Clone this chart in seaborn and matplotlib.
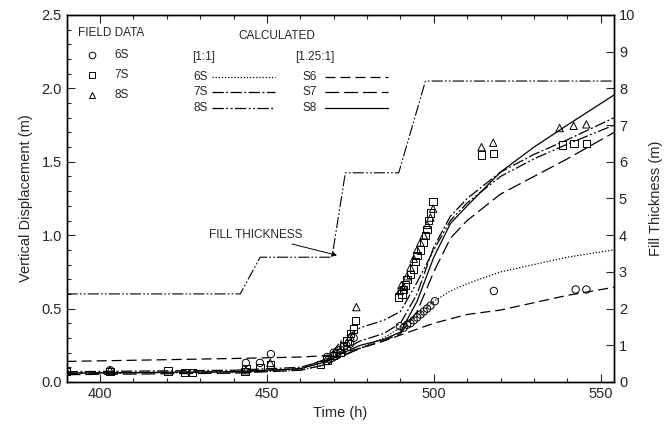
import numpy as np
import pandas as pd
import matplotlib.pyplot as plt
import seaborn as sns

# Deslocamento vertical medido (field data) e calculado, e espessura do aterro

# Field data: time (h) and vertical displacement (m)
t_6s = [403, 443.7, 447.9, 451.2, 468, 470, 471, 472, 473, 474, 475, 476,
        489.8, 491, 492, 493, 494, 495, 496, 497, 498, 499, 500.3,
        518, 542.5, 545.7]
v_6s = [0.08, 0.13, 0.13, 0.19, 0.17, 0.20, 0.19, 0.22, 0.24, 0.22, 0.26, 0.30,
        0.38, 0.37, 0.39, 0.40, 0.42, 0.44, 0.46, 0.48, 0.50, 0.52, 0.55,
        0.62, 0.63, 0.63]

t_7s = [390, 403, 420.4, 425.4, 427.8, 443.4, 443.7, 447.9, 451, 466, 468, 470,
        472, 473, 474, 475, 476, 476.6,
        489.5, 490.5, 491, 491.5, 492, 493, 494, 494.5, 495, 496, 497, 497.5,
        498, 498.5, 499, 499.8,
        514.3, 517.8, 538.5, 542, 545.7]
v_7s = [0.07, 0.07, 0.076, 0.065, 0.065, 0.07, 0.09, 0.10, 0.12, 0.12, 0.15, 0.18,
        0.20, 0.25, 0.28, 0.33, 0.36, 0.42,
        0.58, 0.60, 0.63, 0.66, 0.70, 0.73, 0.77, 0.82, 0.86, 0.90, 0.95, 1.00,
        1.04, 1.10, 1.15, 1.23,
        1.546, 1.558, 1.614, 1.626, 1.626]

t_8s = [390, 403, 443.7, 451, 468, 470, 472, 474, 475, 476.8,
        489.8, 490.3, 491, 492, 493, 494, 495, 496, 497, 498, 499, 499.8,
        514.3, 517.8, 537.7, 541.9, 545.7]
v_8s = [0.07, 0.08, 0.08, 0.13, 0.16, 0.19, 0.22, 0.27, 0.31, 0.51,
        0.62, 0.66, 0.65, 0.72, 0.78, 0.84, 0.90, 0.95, 1.00, 1.07, 1.12, 1.18,
        1.60, 1.63, 1.73, 1.745, 1.755]

# Calculated curves
t_calc = [390, 440, 460, 468, 473, 478, 485, 490, 495, 500, 505, 510, 520, 530, 540, 554]
c_6s_11 = [0.06, 0.065, 0.08, 0.12, 0.18, 0.23, 0.30, 0.37, 0.45, 0.55, 0.62, 0.67, 0.75, 0.80, 0.85, 0.90]
c_7s_11 = [0.07, 0.08, 0.10, 0.15, 0.22, 0.28, 0.33, 0.40, 0.60, 0.92, 1.13, 1.25, 1.43, 1.55, 1.65, 1.80]
c_8s_11 = [0.06, 0.07, 0.09, 0.16, 0.30, 0.37, 0.42, 0.48, 0.68, 0.90, 1.10, 1.22, 1.40, 1.52, 1.62, 1.75]
c_s6 = [0.14, 0.16, 0.17, 0.18, 0.20, 0.23, 0.28, 0.32, 0.36, 0.40, 0.43, 0.46, 0.49, 0.54, 0.59, 0.645]
c_s7 = [0.05, 0.06, 0.08, 0.12, 0.18, 0.23, 0.28, 0.33, 0.48, 0.75, 0.98, 1.10, 1.28, 1.40, 1.52, 1.70]
c_s8 = [0.06, 0.07, 0.09, 0.14, 0.20, 0.25, 0.29, 0.34, 0.55, 0.85, 1.08, 1.20, 1.43, 1.60, 1.75, 1.955]

# Fill thickness (m), right axis
t_fill = [390, 442, 448, 469.5, 473.5, 489.5, 497.5, 554]
h_fill = [2.4, 2.4, 3.4, 3.4, 5.7, 5.7, 8.2, 8.2]

sns.set_style("ticks")
plt.rcParams['font.family'] = ['Liberation Sans', 'DejaVu Sans']

fig = plt.figure(figsize=(6.67, 4.28), dpi=100)
ax = fig.add_axes([0.0999, 0.1075, 0.8207, 0.8575])
ax2 = ax.twinx()

lw = 0.9
estilos = [
    (c_6s_11, (0, (1, 1.5))),
    (c_7s_11, (0, (9, 2, 1.5, 2))),
    (c_8s_11, (0, (9, 2, 1.5, 2, 1.5, 2))),
    (c_s6, (0, (8, 4))),
    (c_s7, (0, (11, 4))),
    (c_s8, '-'),
]
for vals, ls in estilos:
    sns.lineplot(x=t_calc, y=vals, ax=ax, color='black', lw=lw, linestyle=ls,
                 estimator=None, sort=False)

for tt, vv, mk in [(t_6s, v_6s, 'o'), (t_7s, v_7s, 's'), (t_8s, v_8s, '^')]:
    sns.scatterplot(x=tt, y=vv, ax=ax, marker=mk, s=28, linewidth=0.7,
                    edgecolor='black', zorder=3)
    ax.collections[-1].set_facecolor('none')

sns.lineplot(x=t_fill, y=h_fill, ax=ax2, color='black', lw=0.8,
             linestyle=(0, (10, 2, 1.5, 2, 1.5, 2)), estimator=None, sort=False)

# Eixos
ax.set_xlim(390, 554)
ax.set_ylim(0, 2.5)
ax2.set_ylim(0, 10)
ax.set_xticks([400, 450, 500, 550])
ax.set_xticks(np.arange(400, 551, 10), minor=True)
ax.set_yticks(np.arange(0, 2.51, 0.5))
ax.set_yticks(np.arange(0, 2.51, 0.1), minor=True)
ax.set_yticklabels([f'{v:.1f}' for v in np.arange(0, 2.51, 0.5)])
ax2.set_yticks(range(0, 11))

ax.tick_params(which='both', direction='in', top=True, labelsize=10.5)
ax.tick_params(which='major', length=6, width=0.8)
ax.tick_params(which='minor', length=3, width=0.8)
ax.tick_params(axis='y', which='both', right=False)
ax2.tick_params(direction='in', length=6, width=0.8, labelsize=10.5)
for a in (ax, ax2):
    for s in a.spines.values():
        s.set_linewidth(1.0)
        s.set_color('black')

ax.set_xlabel('Time (h)', fontsize=10.5, labelpad=4)
ax.set_ylabel('Vertical Displacement (m)', fontsize=10.5, labelpad=6)
ax2.set_ylabel('Fill Thickness (m)', fontsize=10.5, labelpad=10)

# Legenda manual
tr = ax.transAxes
fs = 8.5
ax.text(0.021, 0.951, 'FIELD DATA', transform=tr, fontsize=fs, va='center')
for y, mk, lab in [(0.891, 'o', '6S'), (0.837, 's', '7S'), (0.782, '^', '8S')]:
    ax.plot([0.046], [y], marker=mk, ms=4.8, mfc='none', mec='black', mew=0.7,
            transform=tr, ls='none')
    ax.text(0.088, y, lab, transform=tr, fontsize=fs, va='center')

ax.text(0.384, 0.943, 'CALCULATED', transform=tr, fontsize=fs, va='center', ha='center')
ax.text(0.229, 0.886, '[1:1]', transform=tr, fontsize=fs, va='center')
ax.text(0.417, 0.886, '[1.25:1]', transform=tr, fontsize=fs, va='center')
rows = [0.831, 0.790, 0.747]
for (lab, ls), y in zip([('6S', estilos[0][1]), ('7S', estilos[1][1]), ('8S', estilos[2][1])], rows):
    ax.text(0.231, y, lab, transform=tr, fontsize=fs, va='center')
    ax.plot([0.266, 0.381], [y, y], color='black', lw=lw, linestyle=ls, transform=tr)
for (lab, ls), y in zip([('S6', estilos[3][1]), ('S7', estilos[4][1]), ('S8', estilos[5][1])], rows):
    ax.text(0.430, y, lab, transform=tr, fontsize=fs, va='center')
    ax.plot([0.472, 0.587], [y, y], color='black', lw=lw, linestyle=ls, transform=tr)

ax2.annotate('FILL THICKNESS', xy=(471, 3.45), xytext=(446.5, 3.85),
             fontsize=fs, ha='center', va='bottom',
             arrowprops=dict(arrowstyle='-|>', color='black', lw=0.7,
                             mutation_scale=7, shrinkA=0, shrinkB=0))

fig.savefig('out.png', dpi=100)
